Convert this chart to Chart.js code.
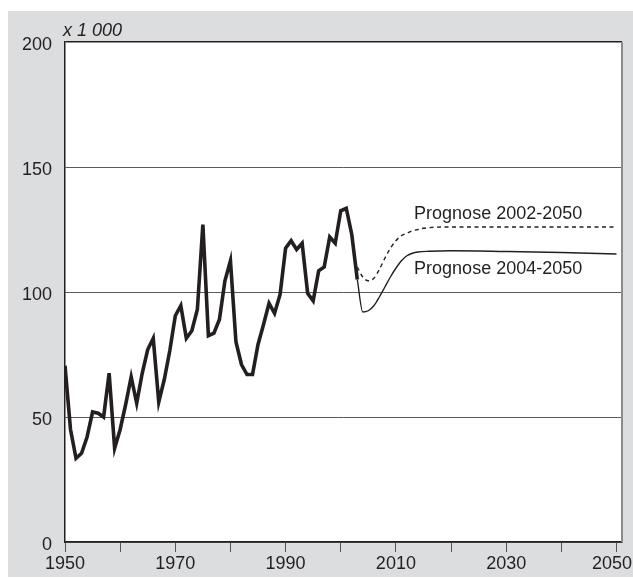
<!DOCTYPE html>
<html>
<head>
<meta charset="utf-8">
<script src="https://cdn.jsdelivr.net/npm/chart.js@4/dist/chart.umd.min.js"></script>
<style>
  html, body { margin: 0; padding: 0; background: #fff; }
  #chart { display: block; }
</style>
</head>
<body>
<canvas id="chart" width="633" height="579"></canvas>
<script>
// observed values, x 1 000
const histYears = [1950, 1951, 1952, 1953, 1954, 1955, 1956, 1957, 1958, 1959,
    1960, 1961, 1962, 1963, 1964, 1965, 1966, 1967, 1968, 1969,
    1970, 1971, 1972, 1973, 1974, 1975, 1976, 1977, 1978, 1979,
    1980, 1981, 1982, 1983, 1984, 1985, 1986, 1987, 1988, 1989,
    1990, 1991, 1992, 1993, 1994, 1995, 1996, 1997, 1998, 1999,
    2000, 2001, 2002, 2003];
const histValues = [70.5, 45, 33.5, 35.5, 42, 52, 51.5, 50, 67.5, 37.5,
    45, 55, 66, 55.5, 67.5, 77, 81.5, 56, 65, 76.5,
    90.5, 94.5, 81.5, 84.5, 93, 127, 82.5, 83.5, 89, 104.5,
    112.5, 80, 71, 67, 67, 79, 87, 95.5, 91.5, 99,
    117.5, 120.5, 117, 119.5, 99.5, 96.5, 108.5, 110, 122, 119.5,
    132.5, 133.5, 123, 105];

// forecast 2002-2050 (dashed)
const prog02Years = [2003, 2004, 2005, 2006, 2007, 2008, 2009, 2010, 2011, 2012,
    2013, 2014, 2015, 2020, 2030, 2040, 2050];
const prog02Values = [110, 106, 104.5, 105.5, 109, 113.5, 117.5, 120.5, 122.5, 123.5,
    124.5, 125, 125.5, 126, 126, 126, 126];

// forecast 2004-2050 (thin solid)
const prog04Years = [2003, 2004, 2005, 2006, 2007, 2008, 2009, 2010, 2011, 2012,
    2013, 2014, 2016, 2020, 2030, 2040, 2050];
const prog04Values = [105, 92, 92.5, 94.5, 98, 102, 106, 109.5, 112.5, 114.5,
    115.5, 116, 116.3, 116.5, 116.2, 115.8, 115.2];

const xTicks = [1950, 1960, 1970, 1980, 1990, 2000, 2010, 2020, 2030, 2040, 2050];
// last label carries an en space so it sits a little left of its tick, as in the original
const xTickLabels = ['1950', '', '1970', '', '1990', '', '2010', '', '2030', '', '2050\u2002'];
const yTicks = [0, 50, 100, 150, 200];
const unitLabel = 'x 1 000';
const prog02Label = 'Prognose 2002-2050';
const prog04Label = 'Prognose 2004-2050';

const FONT = "'Liberation Sans', Arial, sans-serif";
const INK = '#231f20';

const toPoints = (xs, ys) => xs.map((x, i) => ({ x: x, y: ys[i] }));

// grey frame behind the chart and white plot area
const backdrop = {
    id: 'backdrop',
    beforeDraw(chart) {
        const ctx = chart.ctx;
        const a = chart.chartArea;
        ctx.save();
        ctx.fillStyle = '#dcdddf';
        ctx.fillRect(8, 11, chart.width - 8, chart.height - 13);
        ctx.fillStyle = '#ffffff';
        ctx.fillRect(a.left, a.top, a.right - a.left, a.bottom - a.top);
        ctx.restore();
    }
};

// unit text, series labels and right frame line
const extras = {
    id: 'extras',
    afterDraw(chart) {
        const ctx = chart.ctx;
        const a = chart.chartArea;
        const xs = chart.scales.x;
        const ys = chart.scales.y;
        ctx.save();
        ctx.strokeStyle = '#8a8a8a';
        ctx.lineWidth = 2;
        ctx.beginPath();
        ctx.moveTo(a.right, a.top);
        ctx.lineTo(a.right, a.bottom);
        ctx.stroke();

        ctx.fillStyle = INK;
        ctx.textBaseline = 'alphabetic';
        ctx.textAlign = 'left';
        ctx.font = 'italic 18px ' + FONT;
        ctx.fillText(unitLabel, a.left - 2, a.top - 6);

        ctx.font = '18px ' + FONT;
        ctx.fillText(prog02Label, xs.getPixelForValue(2013.3), ys.getPixelForValue(129.2));
        ctx.fillText(prog04Label, xs.getPixelForValue(2013.3), ys.getPixelForValue(107.2));
        ctx.restore();
    }
};

new Chart(document.getElementById('chart'), {
    type: 'line',
    data: {
        datasets: [
            {
                label: 'Waarneming',
                data: toPoints(histYears, histValues),
                borderColor: INK,
                borderWidth: 3.6,
                pointRadius: 0,
                tension: 0
            },
            {
                label: prog02Label,
                data: toPoints(prog02Years, prog02Values),
                borderColor: INK,
                borderWidth: 1.4,
                borderDash: [4, 3.5],
                pointRadius: 0,
                cubicInterpolationMode: 'monotone'
            },
            {
                label: prog04Label,
                data: toPoints(prog04Years, prog04Values),
                borderColor: INK,
                borderWidth: 1.4,
                pointRadius: 0,
                cubicInterpolationMode: 'monotone'
            }
        ]
    },
    options: {
        responsive: false,
        animation: false,
        devicePixelRatio: 1,
        layout: { padding: { top: 42, right: 11, left: 0, bottom: 0 } },
        plugins: {
            legend: { display: false },
            tooltip: { enabled: false }
        },
        scales: {
            x: {
                type: 'linear',
                min: 1950,
                max: 2051,
                afterBuildTicks(scale) {
                    scale.ticks = xTicks.map(v => ({ value: v }));
                },
                afterFit(scale) {
                    scale.height = 37;
                    scale.paddingLeft = 0;
                    scale.paddingRight = 0;
                },
                border: { display: true, color: INK, width: 1.5 },
                grid: {
                    drawOnChartArea: false,
                    drawTicks: true,
                    tickLength: 10,
                    color: '#555',
                    lineWidth: 1
                },
                ticks: {
                    autoSkip: false,
                    maxRotation: 0,
                    padding: 1,
                    color: INK,
                    font: { family: FONT, size: 18 },
                    callback: (v, i) => xTickLabels[i]
                }
            },
            y: {
                min: 0,
                max: 200,
                afterBuildTicks(scale) {
                    scale.ticks = yTicks.map(v => ({ value: v }));
                },
                afterFit(scale) {
                    scale.width = 65;
                },
                border: { display: true, color: INK, width: 1.5 },
                grid: {
                    drawTicks: false,
                    color: (c) => (c.tick && c.tick.value === 200 ? INK : '#5a5a5a'),
                    lineWidth: (c) => (c.tick && c.tick.value === 200 ? 1.5 : 1)
                },
                ticks: {
                    padding: 13,
                    labelOffset: 3,
                    color: INK,
                    font: { family: FONT, size: 18 }
                }
            }
        }
    },
    plugins: [backdrop, extras]
});
</script>
</body>
</html>
